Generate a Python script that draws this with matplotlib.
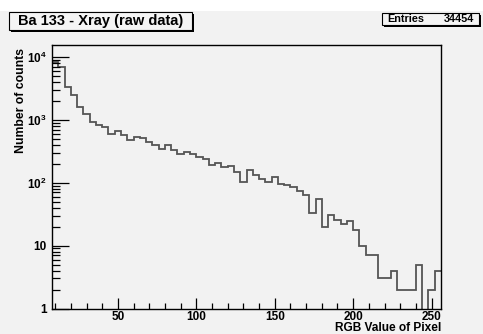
import numpy as np
import matplotlib
matplotlib.use("Agg")
import matplotlib.pyplot as plt
from matplotlib.patches import Rectangle
from matplotlib.ticker import FixedLocator, LogLocator, NullFormatter

plt.rcParams['font.family'] = ['Liberation Sans', 'DejaVu Sans']
plt.rcParams['font.weight'] = 'bold'
plt.rcParams['mathtext.fontset'] = 'custom'
plt.rcParams['mathtext.bf'] = 'Liberation Sans:bold'
plt.rcParams['mathtext.rm'] = 'Liberation Sans:bold'

# histogram: 62 bins of width 4 from 8 to 256
bin_lo = 8
bin_hi = 256
counts = [8200, 6900, 3360, 2480, 1620, 1224, 934, 837, 777, 588,
          663, 573, 477, 526, 507, 449, 397, 343, 397, 330,
          285, 303, 291, 255, 237, 192, 204, 176, 185, 150,
          101, 159, 133, 113, 103, 125, 96, 92, 84, 75,
          64, 33, 55, 20, 31, 26, 22, 25, 18, 10,
          7, 7, 3, 3, 4, 2, 2, 2, 5, 0,
          2, 4]
x_ticks = [50, 100, 150, 200, 250]
y_ticks = [1, 10, 100, 1000, 10000]
y_tick_labels = ['1', '10', r'$\mathbf{10^{2}}$', r'$\mathbf{10^{3}}$', r'$\mathbf{10^{4}}$']
title = 'Ba 133 - Xray (raw data)'
entries = 34454

W, H = 483, 334
BG = '#f2f2f2'


def px(x, y):
    # pixel (from top-left) -> figure fraction
    return x / W, 1 - y / H


def shadow_box(fig, x0, y0, x1, y1):
    # ROOT style pave with a shadow on the right / bottom
    sx, sy = px(x0 + 2, y1 + 2)
    fig.patches.append(Rectangle((sx, sy), (x1 - x0) / W, (y1 - y0) / H, transform=fig.transFigure,
                                 facecolor='black', edgecolor='black', lw=0, zorder=1))
    bx, by = px(x0, y1)
    fig.patches.append(Rectangle((bx, by), (x1 - x0) / W, (y1 - y0) / H, transform=fig.transFigure,
                                 facecolor='#f4f4f4', edgecolor='black', lw=0.8, zorder=2))


def draw():
    fig = plt.figure(figsize=(W / 100, H / 100), dpi=100)
    fig.patch.set_facecolor(BG)
    # white strip at the very top
    fig.patches.append(Rectangle((0, 1 - 11 / H), 1, 11 / H, transform=fig.transFigure,
                                 facecolor='white', lw=0, zorder=0))

    left, top = px(52, 45)
    right, bottom = px(441, 308.5)
    ax = fig.add_axes([left, bottom, right - left, top - bottom])
    ax.set_facecolor(BG)

    edges = np.arange(bin_lo, bin_hi + 1, 4)
    ax.stairs(counts, edges, baseline=None, color='#555555', lw=1.3)

    ax.set_yscale('log')
    ax.set_xlim(bin_lo, bin_hi)
    ax.set_ylim(1, 1.55e4)

    for s in ax.spines.values():
        s.set_linewidth(1.0)
        s.set_color('black')

    ax.xaxis.set_major_locator(FixedLocator(x_ticks))
    ax.xaxis.set_minor_locator(FixedLocator(np.arange(10, 256, 10)))
    ax.yaxis.set_major_locator(FixedLocator(y_ticks))
    ax.set_yticklabels(y_tick_labels)
    ax.yaxis.set_minor_locator(LogLocator(base=10, subs=np.arange(2, 10)))
    ax.yaxis.set_minor_formatter(NullFormatter())

    ax.tick_params(axis='x', which='major', direction='in', length=8, width=0.9, pad=2, labelsize=8.5)
    ax.tick_params(axis='x', which='minor', direction='in', length=4, width=0.9)
    ax.tick_params(axis='y', which='major', direction='in', length=12, width=0.9, pad=4, labelsize=8.5)
    ax.tick_params(axis='y', which='minor', direction='in', length=6, width=0.9)

    ax.set_xlabel('RGB Value of Pixel', fontsize=8.6, fontweight='bold', loc='right')
    ax.xaxis.set_label_coords(1.0, -(327.8 - 308.5) / 263.5)
    ax.xaxis.label.set_va('center')
    ax.set_ylabel('Number of counts', fontsize=8.8, fontweight='bold', loc='top')
    ax.yaxis.set_label_coords(-(52 - 21.5) / 389, 1.0 - 3 / 263.5)
    ax.yaxis.label.set_va('center')

    # title pave
    shadow_box(fig, 9, 12, 192, 30)
    tx, ty = px(100.5, 21.5)
    fig.text(tx, ty, title, ha='center', va='center', fontsize=10.5, fontweight='bold', zorder=3)

    # stats pave
    shadow_box(fig, 382, 12.5, 479, 24.5)
    ex, ey = px(387, 18.8)
    fig.text(ex, ey, 'Entries', ha='left', va='center', fontsize=7.8, fontweight='bold', zorder=3)
    nx, ny = px(474, 18.8)
    fig.text(nx, ny, str(entries), ha='right', va='center', fontsize=7.8, fontweight='bold', zorder=3)

    fig.savefig('out.png', dpi=100, facecolor=fig.get_facecolor())
    plt.close(fig)


if __name__ == "__main__":
    draw()
